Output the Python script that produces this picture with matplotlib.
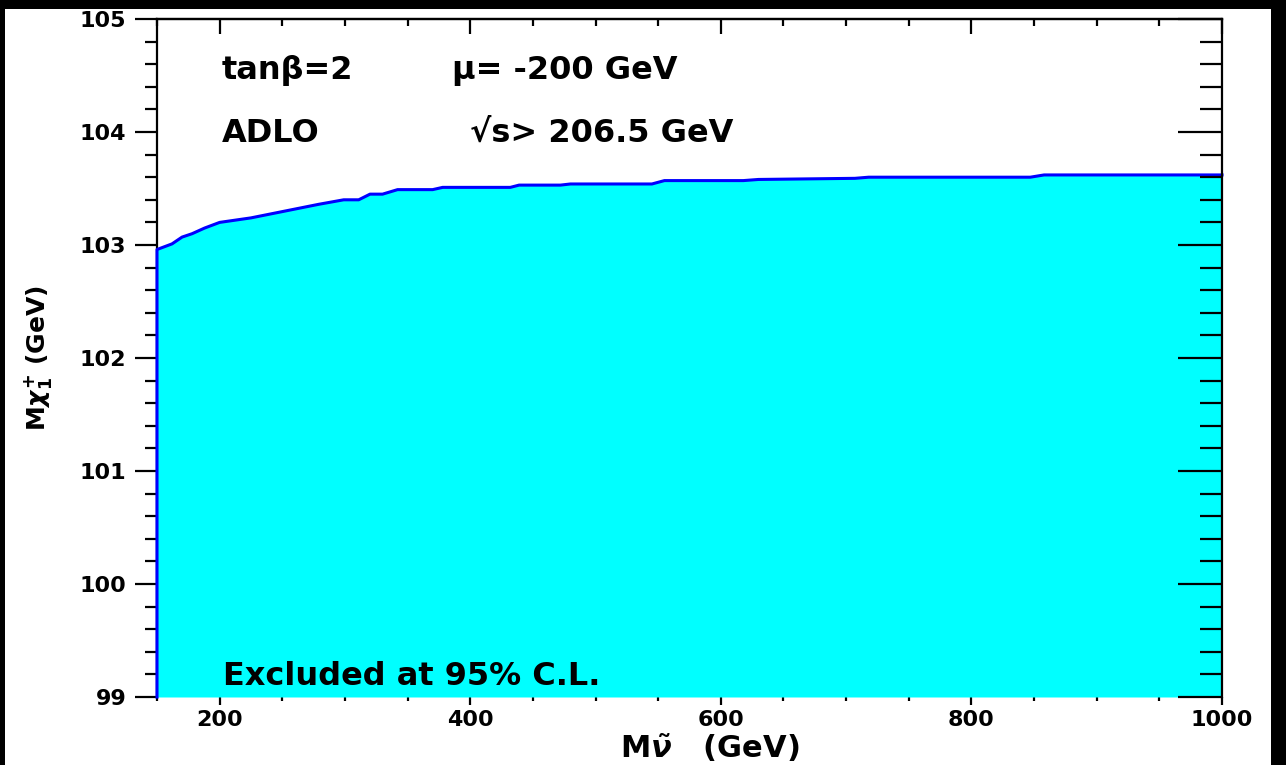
import matplotlib
matplotlib.use('Agg')
import matplotlib.pyplot as plt
from matplotlib.patches import Rectangle
from matplotlib.ticker import MultipleLocator, NullFormatter

# exclusion boundary
m_snu = [150, 162, 170, 178, 188, 200, 225, 252, 279, 299, 311, 320, 330, 342,
         370, 378, 432, 439, 472, 480, 545, 555, 618, 630, 707, 718, 847, 858, 1000]
m_chi = [102.96, 103.01, 103.07, 103.10, 103.15, 103.20, 103.24, 103.30, 103.36,
         103.40, 103.40, 103.45, 103.45, 103.49, 103.49, 103.51, 103.51, 103.53,
         103.53, 103.54, 103.54, 103.57, 103.57, 103.58, 103.59, 103.60, 103.60,
         103.62, 103.62]
y_floor = 99

plt.rcParams['font.family'] = ['DejaVu Sans']
plt.rcParams['font.weight'] = 'bold'

W, H = 1286, 765
fig = plt.figure(figsize=(W / 100, H / 100), dpi=100, facecolor='black')
fig.patches.append(Rectangle((5 / W, 0), (1271 - 5) / W, 1 - 9 / H,
                             transform=fig.transFigure, facecolor='white',
                             edgecolor='none', zorder=-10))

ax = fig.add_axes([157 / W, 1 - 697 / H, (1222 - 157) / W, (697 - 19) / H])
ax.set_facecolor('white')
ax.set_xlim(150, 1000)
ax.set_ylim(99, 105)

ax.fill_between(m_snu, y_floor, m_chi, color='#00ffff', lw=0, zorder=2.6)
ax.plot([m_snu[0]] + m_snu, [y_floor] + m_chi, color='#0000ff', lw=2.2,
        zorder=2.7, clip_on=False)

for s in ax.spines.values():
    s.set_linewidth(1.6)
ax.spines['bottom'].set_visible(False)
ax.spines['right'].set_visible(False)

ax.xaxis.set_major_locator(MultipleLocator(200))
ax.xaxis.set_minor_locator(MultipleLocator(50))
ax.yaxis.set_major_locator(MultipleLocator(1))
ax.yaxis.set_minor_locator(MultipleLocator(0.2))
ax.tick_params(axis='y', which='major', direction='out', length=16, width=1.6,
               labelsize=16, pad=6)
ax.tick_params(axis='y', which='minor', direction='out', length=8.5, width=1.6)
ax.tick_params(axis='x', which='major', direction='out', length=6, width=1.6,
               labelsize=16, pad=3)
ax.tick_params(axis='x', which='minor', direction='out', length=3, width=1.6)

sec_r = ax.secondary_yaxis('right')
sec_r.set_zorder(5)
sec_r.yaxis.set_major_locator(MultipleLocator(1))
sec_r.yaxis.set_minor_locator(MultipleLocator(0.2))
sec_r.yaxis.set_major_formatter(NullFormatter())
sec_r.tick_params(which='major', direction='in', length=32, width=1.6)
sec_r.tick_params(which='minor', direction='in', length=16, width=1.6)
sec_r.spines['right'].set_linewidth(1.6)

sec_t = ax.secondary_xaxis('top')
sec_t.set_zorder(5)
sec_t.xaxis.set_major_locator(MultipleLocator(200))
sec_t.xaxis.set_minor_locator(MultipleLocator(50))
sec_t.xaxis.set_major_formatter(NullFormatter())
sec_t.tick_params(which='major', direction='in', length=11, width=1.6)
sec_t.tick_params(which='minor', direction='in', length=5, width=1.6)
sec_t.spines['top'].set_linewidth(1.6)

kw = dict(transform=ax.transAxes, fontsize=23, fontweight='bold', va='baseline')
ax.text(0.061, 0.9115, 'tanβ=2', **kw)
ax.text(0.277, 0.9115, 'μ= -200 GeV', **kw)
ax.text(0.061, 0.8186, 'ADLO', **kw)
ax.text(0.294, 0.8186, '√s> 206.5 GeV', **kw)
ax.text(0.062, 0.0177, 'Excluded at 95% C.L.', zorder=5, **kw)

fig.text(710 / W, 1 - 748 / H, r'M$\tilde{\nu}$   (GeV)', fontsize=22,
         fontweight='bold', ha='center', va='center')
fig.text(38 / W, 1 - 358 / H, r'M$\chi^{+}_{1}$ (GeV)', fontsize=18,
         fontweight='bold', ha='center', va='center', rotation=90)

fig.savefig('out.png', dpi=100, facecolor='black')
